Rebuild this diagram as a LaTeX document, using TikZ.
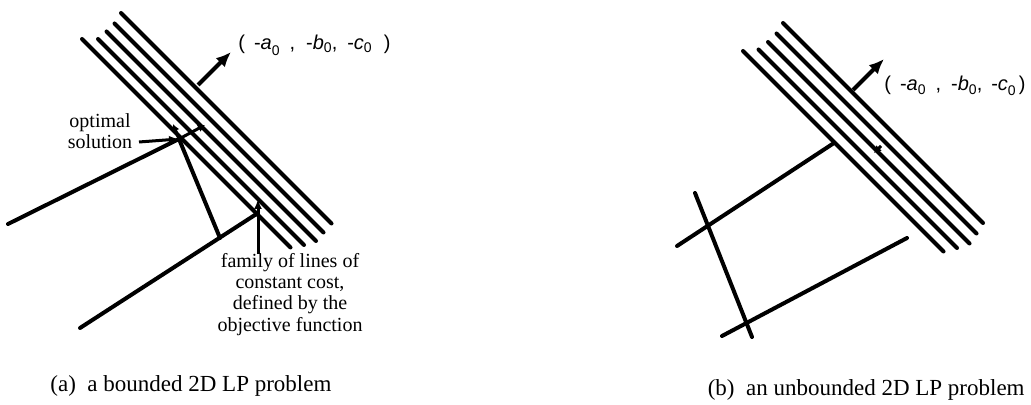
\documentclass[tikz,border=0pt]{standalone}
\usepackage{fontspec}
\setmainfont{Liberation Serif}
\newfontfamily\tupfont{Liberation Sans}
\usetikzlibrary{arrows.meta}
\begin{document}
\begin{tikzpicture}[x=0.5pt,y=-0.5pt,
  heavy/.style={line width=2pt,line cap=round},
  vec/.style={line width=2pt,-{Latex[length=7.5pt,width=6.5pt]}},
  ptr/.style={line width=1.5pt,-{Latex[length=5pt,width=4pt]}},
  tick/.style={line width=1.5pt,-{Latex[length=3.5pt,width=4pt]}},
  note/.style={font=\fontsize{10}{10.6}\selectfont,inner sep=0pt,align=center},
  captext/.style={font=\fontsize{11.5}{13}\selectfont,inner sep=0pt},
  tup/.style={font=\tupfont\fontsize{10}{11}\selectfont,inner sep=0pt}]
\useasboundingbox (0,0) rectangle (1031,405);

% ---------------- panel (a) ----------------
\coordinate (a1s) at (82,39);    \coordinate (a1e) at (290.5,247.5);
\coordinate (a2s) at (98,39);    \coordinate (a2e) at (304,245);
\coordinate (a3s) at (106.5,31.5); \coordinate (a3e) at (316,241);
\coordinate (a4s) at (114.5,23.5); \coordinate (a4e) at (323.5,232.5);
\coordinate (a5s) at (121,13);   \coordinate (a5e) at (331.5,223.5);
\foreach \i in {1,...,5} \draw[heavy] (a\i s) -- (a\i e);

\coordinate (an0) at (198,85); \coordinate (an1) at (231,52);
\draw[vec] (an0) -- (an1);
\node[tup,anchor=west] (alab) at (238,45)
  {(\hspace{0.45em}-\textit{a}\raisebox{-0.55ex}{\scriptsize 0}\hspace{0.5em},\hspace{0.55em}-\textit{b}\raisebox{-0.35ex}{\scriptsize 0},\hspace{0.5em}-\textit{c}\raisebox{-0.35ex}{\scriptsize 0}\hspace{0.6em})};

\coordinate (aL) at (8,224);
\coordinate (aV) at (179,139);
\coordinate (aW) at (220,238);
\coordinate (aB) at (80,328);
\coordinate (aR) at (258,213);
\coordinate (aX1) at (205,125);
\coordinate (aX2) at (173,124);
\draw[heavy] (aL) -- (aV) -- (aW);
\draw[heavy] (aB) -- (aR);
\draw[tick] (aV) -- (aX1);
\draw[tick] (aV) -- (aX2);

\node[note] (opt) at (100,131) {optimal\\solution};
\coordinate (solA) at (139,142);
\draw[ptr] (solA) -- (aV);

\coordinate (ptB) at (258,254); \coordinate (ptT) at (258,199);
\draw[ptr] (ptB) -- (ptT);
\node[note,anchor=north] (fam) at (290,253)
  {family of lines of\\constant cost,\\defined by the\\objective function};

\node[captext,anchor=base west] (capa) at (50,391) {(a)\ \ a bounded 2D LP problem};

% ---------------- panel (b) ----------------
\coordinate (b1s) at (743,51);    \coordinate (b1e) at (943.5,251.5);
\coordinate (b2s) at (758.5,49.5); \coordinate (b2e) at (957,248);
\coordinate (b3s) at (768,42);    \coordinate (b3e) at (969.5,243.5);
\coordinate (b4s) at (776.5,33.5); \coordinate (b4e) at (976.5,233.5);
\coordinate (b5s) at (783,23);    \coordinate (b5e) at (983,223);
\foreach \i in {1,...,5} \draw[heavy] (b\i s) -- (b\i e);

\coordinate (bn0) at (853,90); \coordinate (bn1) at (884,59);
\draw[vec] (bn0) -- (bn1);
\node[tup,anchor=west] (blab) at (884,86)
  {(\hspace{0.45em}-\textit{a}\raisebox{-0.35ex}{\scriptsize 0}\hspace{0.5em},\hspace{0.5em}-\textit{b}\raisebox{-0.35ex}{\scriptsize 0},\hspace{0.45em}-\textit{c}\raisebox{-0.45ex}{\scriptsize 0}\hspace{0.15em})};

\coordinate (bm0) at (881,146); \coordinate (bm1) at (874,153);
\draw[tick] (bm0) -- (bm1);

\coordinate (bU1) at (677,246); \coordinate (bU2) at (834,143);
\coordinate (bL1) at (695,193); \coordinate (bL2) at (752,337);
\coordinate (bB1) at (722,336); \coordinate (bB2) at (907,238);
\draw[heavy] (bU1) -- (bU2);
\draw[heavy] (bL1) -- (bL2);
\draw[heavy] (bB1) -- (bB2);

\node[captext,anchor=base east] (capb) at (1025,395) {(b)\ \ an unbounded 2D LP problem};
\end{tikzpicture}
\end{document}
